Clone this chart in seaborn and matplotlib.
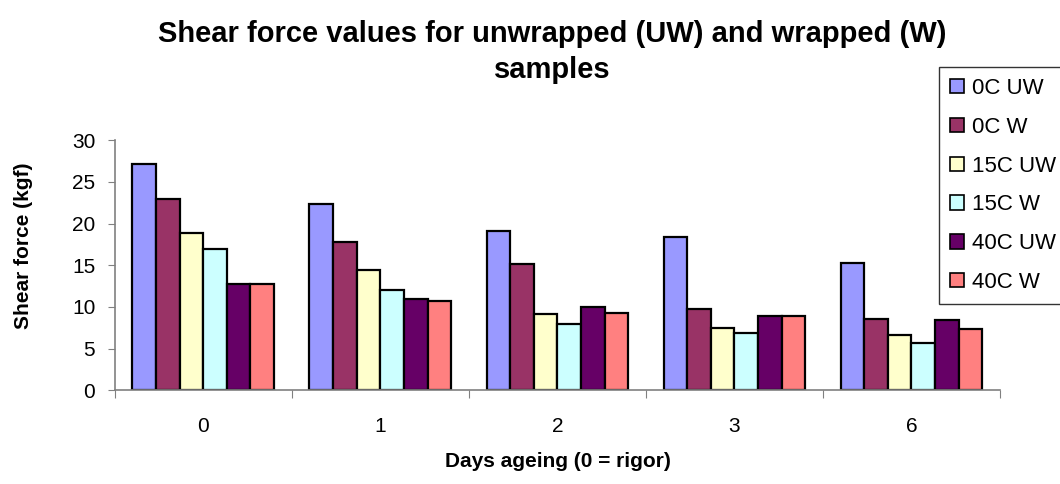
import matplotlib
matplotlib.use("Agg")
import matplotlib.pyplot as plt
import seaborn as sns
import pandas as pd
from matplotlib.ticker import FixedLocator, NullFormatter

days = ["0", "1", "2", "3", "6"]
series = ["0C UW", "0C W", "15C UW", "15C W", "40C UW", "40C W"]
v_0C_UW = [27.1, 22.4, 19.1, 18.4, 15.3]
v_0C_W = [22.9, 17.8, 15.1, 9.8, 8.6]
v_15C_UW = [18.9, 14.4, 9.1, 7.5, 6.6]
v_15C_W = [16.9, 12.0, 8.0, 6.9, 5.7]
v_40C_UW = [12.7, 10.9, 10.0, 8.9, 8.4]
v_40C_W = [12.7, 10.7, 9.3, 8.9, 7.3]
colors = ["#9999FF", "#993366", "#FFFFCC", "#CCFFFF", "#660066", "#FF8080"]

values = [v_0C_UW, v_0C_W, v_15C_UW, v_15C_W, v_40C_UW, v_40C_W]
rows = []
for s, vals in zip(series, values):
    for d, v in zip(days, vals):
        rows.append({"Days": d, "Series": s, "Shear": v})
df = pd.DataFrame(rows)

sns.set_style("white")
plt.rcParams['font.family'] = ['Liberation Sans', 'DejaVu Sans']
plt.rcParams['text.color'] = 'black'
plt.rcParams['axes.labelcolor'] = 'black'

W, H = 1060, 484
fig = plt.figure(figsize=(10.6, 4.84), dpi=100)
ax = fig.add_axes([114.7 / W, 1 - 390.3 / H, 885.3 / W, 250 / H])

sns.barplot(data=df, x="Days", y="Shear", hue="Series", order=days,
            hue_order=series, palette=colors, width=0.8, saturation=1,
            edgecolor="black", linewidth=1.6, ax=ax, legend=True)

ax.set_xlim(-0.5, 4.5)
ax.set_ylim(0, 30)
ax.set_yticks([0, 5, 10, 15, 20, 25, 30])
ax.tick_params(axis="y", which="major", labelsize=15, length=5, color="#808080",
               labelcolor="black", direction="out", left=True, pad=9)
ax.xaxis.set_major_locator(FixedLocator([-0.5, 0.5, 1.5, 2.5, 3.5, 4.5]))
ax.xaxis.set_major_formatter(NullFormatter())
ax.xaxis.set_minor_locator(FixedLocator([0, 1, 2, 3, 4]))
ax.set_xticklabels(days, minor=True)
ax.tick_params(axis="x", which="major", length=6, color="#808080", direction="out", bottom=True)
ax.tick_params(axis="x", which="minor", length=0, labelsize=15, labelcolor="black", pad=19)

for side in ["top", "right"]:
    ax.spines[side].set_visible(False)
for side in ["left", "bottom"]:
    ax.spines[side].set_color("#808080")
    ax.spines[side].set_linewidth(1.2)

ax.set_xlabel("")
ax.set_ylabel("")
fig.text(558 / W, 1 - 467 / H, "Days ageing (0 = rigor)", ha="center", va="baseline",
         fontsize=15, fontweight="bold")
fig.text(24 / W, 1 - 246 / H, "Shear force (kgf)", ha="center", va="center",
         rotation=90, fontsize=15, fontweight="bold")

fig.text(552 / W, 1 - 42 / H, "Shear force values for unwrapped (UW) and wrapped (W)",
         ha="center", va="baseline", fontsize=21, fontweight="bold")
fig.text(552 / W, 1 - 78 / H, "samples",
         ha="center", va="baseline", fontsize=21, fontweight="bold")

leg = ax.legend(loc="upper left", bbox_to_anchor=(939 / W, 1 - 67 / H),
                bbox_transform=fig.transFigure, frameon=True, fontsize=16,
                handlelength=0.62, handleheight=0.62, handletextpad=0.37,
                labelspacing=0.80, borderpad=0.5, borderaxespad=0, fancybox=False)
frame = leg.get_frame()
frame.set_edgecolor("black")
frame.set_linewidth(1.0)
for h in leg.legend_handles:
    h.set_edgecolor("black")
    h.set_linewidth(1.2)

fig.savefig("out.png", dpi=100)
